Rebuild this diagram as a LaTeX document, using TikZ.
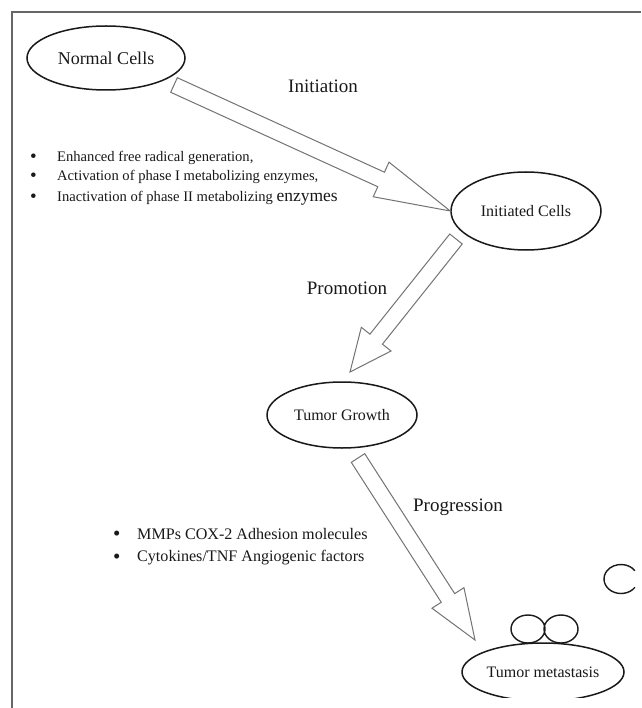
\documentclass[tikz,border=0pt]{standalone}
\usepackage{fontspec}
\setmainfont{Liberation Serif}
\usepackage{tikz}
\usetikzlibrary{shapes.geometric,calc,positioning}

% hollow block arrow: tail, tip, head length
\newcommand{\blockarrow}[3]{%
  \coordinate (hb) at ($(#2)!#3!(#1)$);
  \draw[hollow] ($(#1)!8pt!90:(#2)$) -- ($(hb)!8pt!-90:(#1)$) -- ($(hb)!19pt!-90:(#1)$) -- (#2)
    -- ($(hb)!19pt!90:(#1)$) -- ($(hb)!8pt!90:(#1)$) -- ($(#1)!8pt!-90:(#2)$) -- cycle;
}
\newcommand{\bul}[1]{\makebox[#1][l]{\smash{\raisebox{-0.15ex}{\scalebox{1.3}{\textbullet}}}}}

\tikzset{
  cell/.style={ellipse,draw=black!90,line width=1.5pt,inner sep=0pt,text=black!90},
  hollow/.style={draw=black!55,line width=1pt,line join=miter},
  stage/.style={font=\fontsize{19}{22}\selectfont,text=black!90},
  fact/.style={anchor=west,inner sep=0pt,text=black!90},
  frame/.style={draw=black!60,line width=1.5pt},
}

\begin{document}
\begin{tikzpicture}[x=1pt,y=-1pt]
\useasboundingbox[fill=white] (0,0) rectangle (641,708);
\draw[frame] (12,708) -- (12,12) -- (641,12);

\node[cell,minimum width=158pt,minimum height=64pt,font=\fontsize{18}{20}\selectfont] (normal) at (106,58) {Normal Cells};
\node[cell,minimum width=150pt,minimum height=78pt,font=\fontsize{16}{18}\selectfont] (init) at (526,211) {Initiated Cells};
\node[cell,minimum width=150pt,minimum height=66pt,font=\fontsize{16}{18}\selectfont] (growth) at (342,415) {Tumor Growth};
\begin{scope}
  \clip (0,0) rectangle (641,697);
  \node[cell,minimum width=162pt,minimum height=58pt,font=\fontsize{16}{18}\selectfont] (meta) at (543,672) {Tumor metastasis};
\end{scope}

% cells on top of the metastasis
\draw[black!90,line width=1.4pt] (528,629) ellipse (17 and 14) (561,629) ellipse (17 and 14);
\draw[black!90,line width=1.4pt] (621,579) ++(35:17 and 14.5) arc (35:325:17 and 14.5);

\coordinate (t1) at (174,85);
\coordinate (t2) at (456,239);
\coordinate (h2) at (350,372);
\coordinate (t3) at (358,458);
\coordinate (h3) at (475,640);

\blockarrow{t1}{init.west}{76pt}
\blockarrow{t2}{h2}{42pt}
\blockarrow{t3}{h3}{50pt}

\node[stage] (initiation) at (323,86) {Initiation};
\node[stage] (promotion) at (347,288) {Promotion};
\node[stage] (progression) at (458,507) {Progression};

\node[fact,font=\fontsize{14.6}{16}\selectfont] (f1) at (30,158) {\bul{27pt}Enhanced free radical generation,};
\node[fact,font=\fontsize{14.6}{16}\selectfont] (f2) at (30,177) {\bul{27pt}Activation of phase I metabolizing enzymes,};
\node[fact,font=\fontsize{14.6}{16}\selectfont] (f3) at (30,198) {\bul{27pt}Inactivation of phase II metabolizing {\fontsize{17.5}{19}\selectfont enzymes}};

\node[fact,font=\fontsize{16.1}{18}\selectfont] (m1) at (113,534) {\bul{24pt}MMPs COX-2 Adhesion molecules};
\node[fact,font=\fontsize{16.1}{18}\selectfont] (m2) at (113,558) {\bul{24pt}Cytokines/TNF Angiogenic factors};
\end{tikzpicture}
\end{document}
